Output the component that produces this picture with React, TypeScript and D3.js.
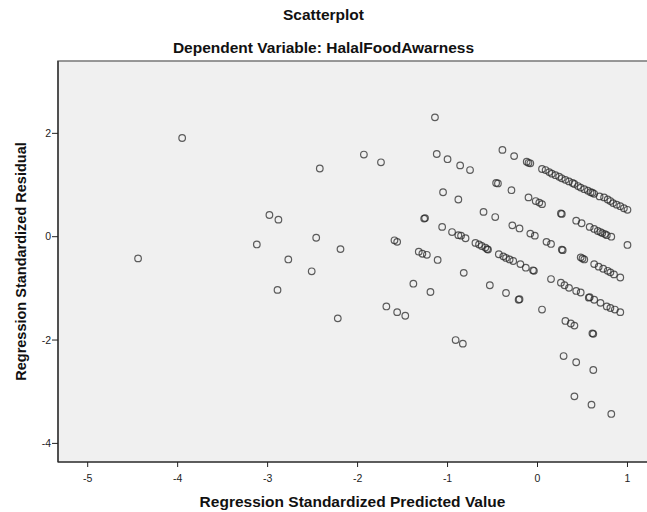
import React from 'react'
import * as d3 from 'd3'

// regression standardized predicted value (x) and residual (y)
const predicted = [
  -3.95, -4.44, -2.42, -1.93, -1.74, -2.98, -2.88, -3.12, -2.77, -2.46, -2.19, -2.51, -2.89, -2.22,
  -1.68, -1.56, -1.47, -1.59, -1.56,
  -1.14, -1.12, -1.0, -0.86, -0.75, -0.39, -0.26, -0.46, -0.44, -0.29, -1.05, -0.88, -0.6, -0.47,
  -0.28, -0.2,
  -0.12, -0.08, -0.1, 0.05, 0.09, 0.13, 0.16, 0.2, 0.24, 0.27, 0.31, 0.35, 0.39, 0.41, 0.45, 0.48,
  0.52, 0.56, 0.59, 0.61, 0.63, 0.69, 0.74, 0.78, 0.81, 0.84, 0.88, 0.92, 0.96, 1.0,
  -0.1, -0.02, 0.02, 0.05, 0.26, 0.27, 0.43, 0.49, 0.58, 0.63, 0.67, 0.7, 0.72, 0.75, 0.77, 0.82,
  1.0,
  -1.26, -1.25, -1.06, -0.95, -0.88, -0.85, -0.8, -0.69, -0.65, -0.62, -0.58, -0.56, -0.55, -0.08,
  -0.03, 0.1, 0.15, 0.27, 0.28, 0.48, 0.5, 0.52, 0.63, 0.68, 0.73, 0.78, 0.81, 0.85, 0.92,
  -1.32, -1.28, -1.23, -1.11, -0.43, -0.38, -0.35, -0.31, -0.27, -0.19, -0.13, -0.05, -0.04, 0.15,
  0.26, 0.3, 0.35, 0.43, 0.48, 0.57, 0.58, 0.63, 0.7, 0.77, 0.81, 0.86, 0.92,
  -0.82, -1.38, -1.19, -0.53, -0.35, -0.21, -0.2, 0.05, 0.31, 0.37, 0.41, 0.61, 0.62, -0.91, -0.83,
  0.29, 0.43, 0.62, 0.41, 0.6, 0.82,
]

const residual = [
  1.91, -0.42, 1.32, 1.59, 1.44, 0.42, 0.33, -0.15, -0.44, -0.02, -0.24, -0.67, -1.03, -1.58,
  -1.35, -1.46, -1.53, -0.07, -0.1,
  2.31, 1.6, 1.5, 1.38, 1.29, 1.68, 1.56, 1.04, 1.03, 0.9, 0.86, 0.72, 0.48, 0.38, 0.22, 0.16,
  1.45, 1.42, 1.43, 1.31, 1.29, 1.25, 1.22, 1.19, 1.16, 1.13, 1.1, 1.07, 1.04, 1.02, 0.98, 0.95,
  0.92, 0.89, 0.86, 0.85, 0.83, 0.78, 0.76, 0.72, 0.69, 0.65, 0.62, 0.59, 0.55, 0.52,
  0.76, 0.69, 0.66, 0.63, 0.45, 0.44, 0.31, 0.26, 0.19, 0.15, 0.11, 0.09, 0.07, 0.05, 0.03, 0.0,
  -0.16,
  0.35, 0.36, 0.19, 0.09, 0.03, 0.02, -0.03, -0.12, -0.15, -0.18, -0.21, -0.24, -0.25, 0.06,
  0.02, -0.1, -0.14, -0.25, -0.26, -0.4, -0.42, -0.44, -0.53, -0.58, -0.62, -0.66, -0.69, -0.73,
  -0.79,
  -0.29, -0.33, -0.35, -0.45, -0.34, -0.38, -0.41, -0.44, -0.47, -0.53, -0.6, -0.65, -0.66, -0.82,
  -0.89, -0.94, -0.99, -1.05, -1.08, -1.18, -1.17, -1.22, -1.28, -1.35, -1.38, -1.41, -1.46,
  -0.7, -0.91, -1.07, -0.94, -1.09, -1.22, -1.21, -1.41, -1.63, -1.68, -1.72, -1.87, -1.88, -2.0,
  -2.07, -2.31, -2.43, -2.58, -3.09, -3.25, -3.43,
]

const xTicks = [-5, -4, -3, -2, -1, 0, 1]
const yTicks = [-4, -2, 0, 2]

const width = 647
const height = 512
const plot = { left: 58, top: 61, right: 647, bottom: 462 }
const font = 'Arial, "Liberation Sans", sans-serif'

const xScale = d3.scaleLinear().domain([-5.33, 1.217]).range([plot.left, plot.right])
const yScale = d3.scaleLinear().domain([-4.36, 3.4]).range([plot.bottom, plot.top])

const points = predicted.map((p, i) => ({ x: p, y: residual[i] }))

export default function App() {
  return (
    <svg
      width={width}
      height={height}
      style={{ position: 'absolute', left: 0, top: 0, display: 'block', background: '#fff' }}
    >
      <text x={width / 2} y={20} textAnchor="middle" fontFamily={font} fontSize={15.5} fontWeight="bold" fill="#111">
        Scatterplot
      </text>
      <text x={width / 2} y={53} textAnchor="middle" fontFamily={font} fontSize={15.5} fontWeight="bold" fill="#111">
        Dependent Variable: HalalFoodAwarness
      </text>

      <rect
        x={plot.left}
        y={plot.top}
        width={plot.right - plot.left + 2}
        height={plot.bottom - plot.top}
        fill="#f0f0f0"
        stroke="#777"
        strokeWidth={1.5}
      />

      {points.map((d, i) => (
        <circle
          key={i}
          cx={xScale(d.x)}
          cy={yScale(d.y)}
          r={3.3}
          fill="none"
          stroke="#2a2a2a"
          strokeOpacity={0.75}
          strokeWidth={1.2}
        />
      ))}

      <line x1={plot.left} x2={plot.left} y1={plot.top} y2={plot.bottom} stroke="#222" strokeWidth={1.2} />
      <line x1={plot.left} x2={plot.right} y1={plot.bottom} y2={plot.bottom} stroke="#222" strokeWidth={1.2} />

      {yTicks.map(t => (
        <g key={t}>
          <line x1={plot.left - 6} x2={plot.left} y1={yScale(t)} y2={yScale(t)} stroke="#222" />
          <text x={plot.left - 7} y={yScale(t) + 3.8} textAnchor="end" fontFamily={font} fontSize={10.5} fill="#222">
            {t}
          </text>
        </g>
      ))}

      {xTicks.map(t => (
        <g key={t}>
          <line x1={xScale(t)} x2={xScale(t)} y1={plot.bottom} y2={plot.bottom + 5} stroke="#222" />
          <text x={xScale(t)} y={plot.bottom + 20} textAnchor="middle" fontFamily={font} fontSize={10.5} fill="#222">
            {t}
          </text>
        </g>
      ))}

      <text
        x={(plot.left + plot.right) / 2}
        y={507}
        textAnchor="middle"
        fontFamily={font}
        fontSize={15.5}
        fontWeight="bold"
        fill="#111"
      >
        Regression Standardized Predicted Value
      </text>
      <text
        transform={`translate(26, ${(plot.top + plot.bottom) / 2}) rotate(-90)`}
        textAnchor="middle"
        fontFamily={font}
        fontSize={14.5}
        fontWeight="bold"
        fill="#111"
      >
        Regression Standardized Residual
      </text>
    </svg>
  )
}
